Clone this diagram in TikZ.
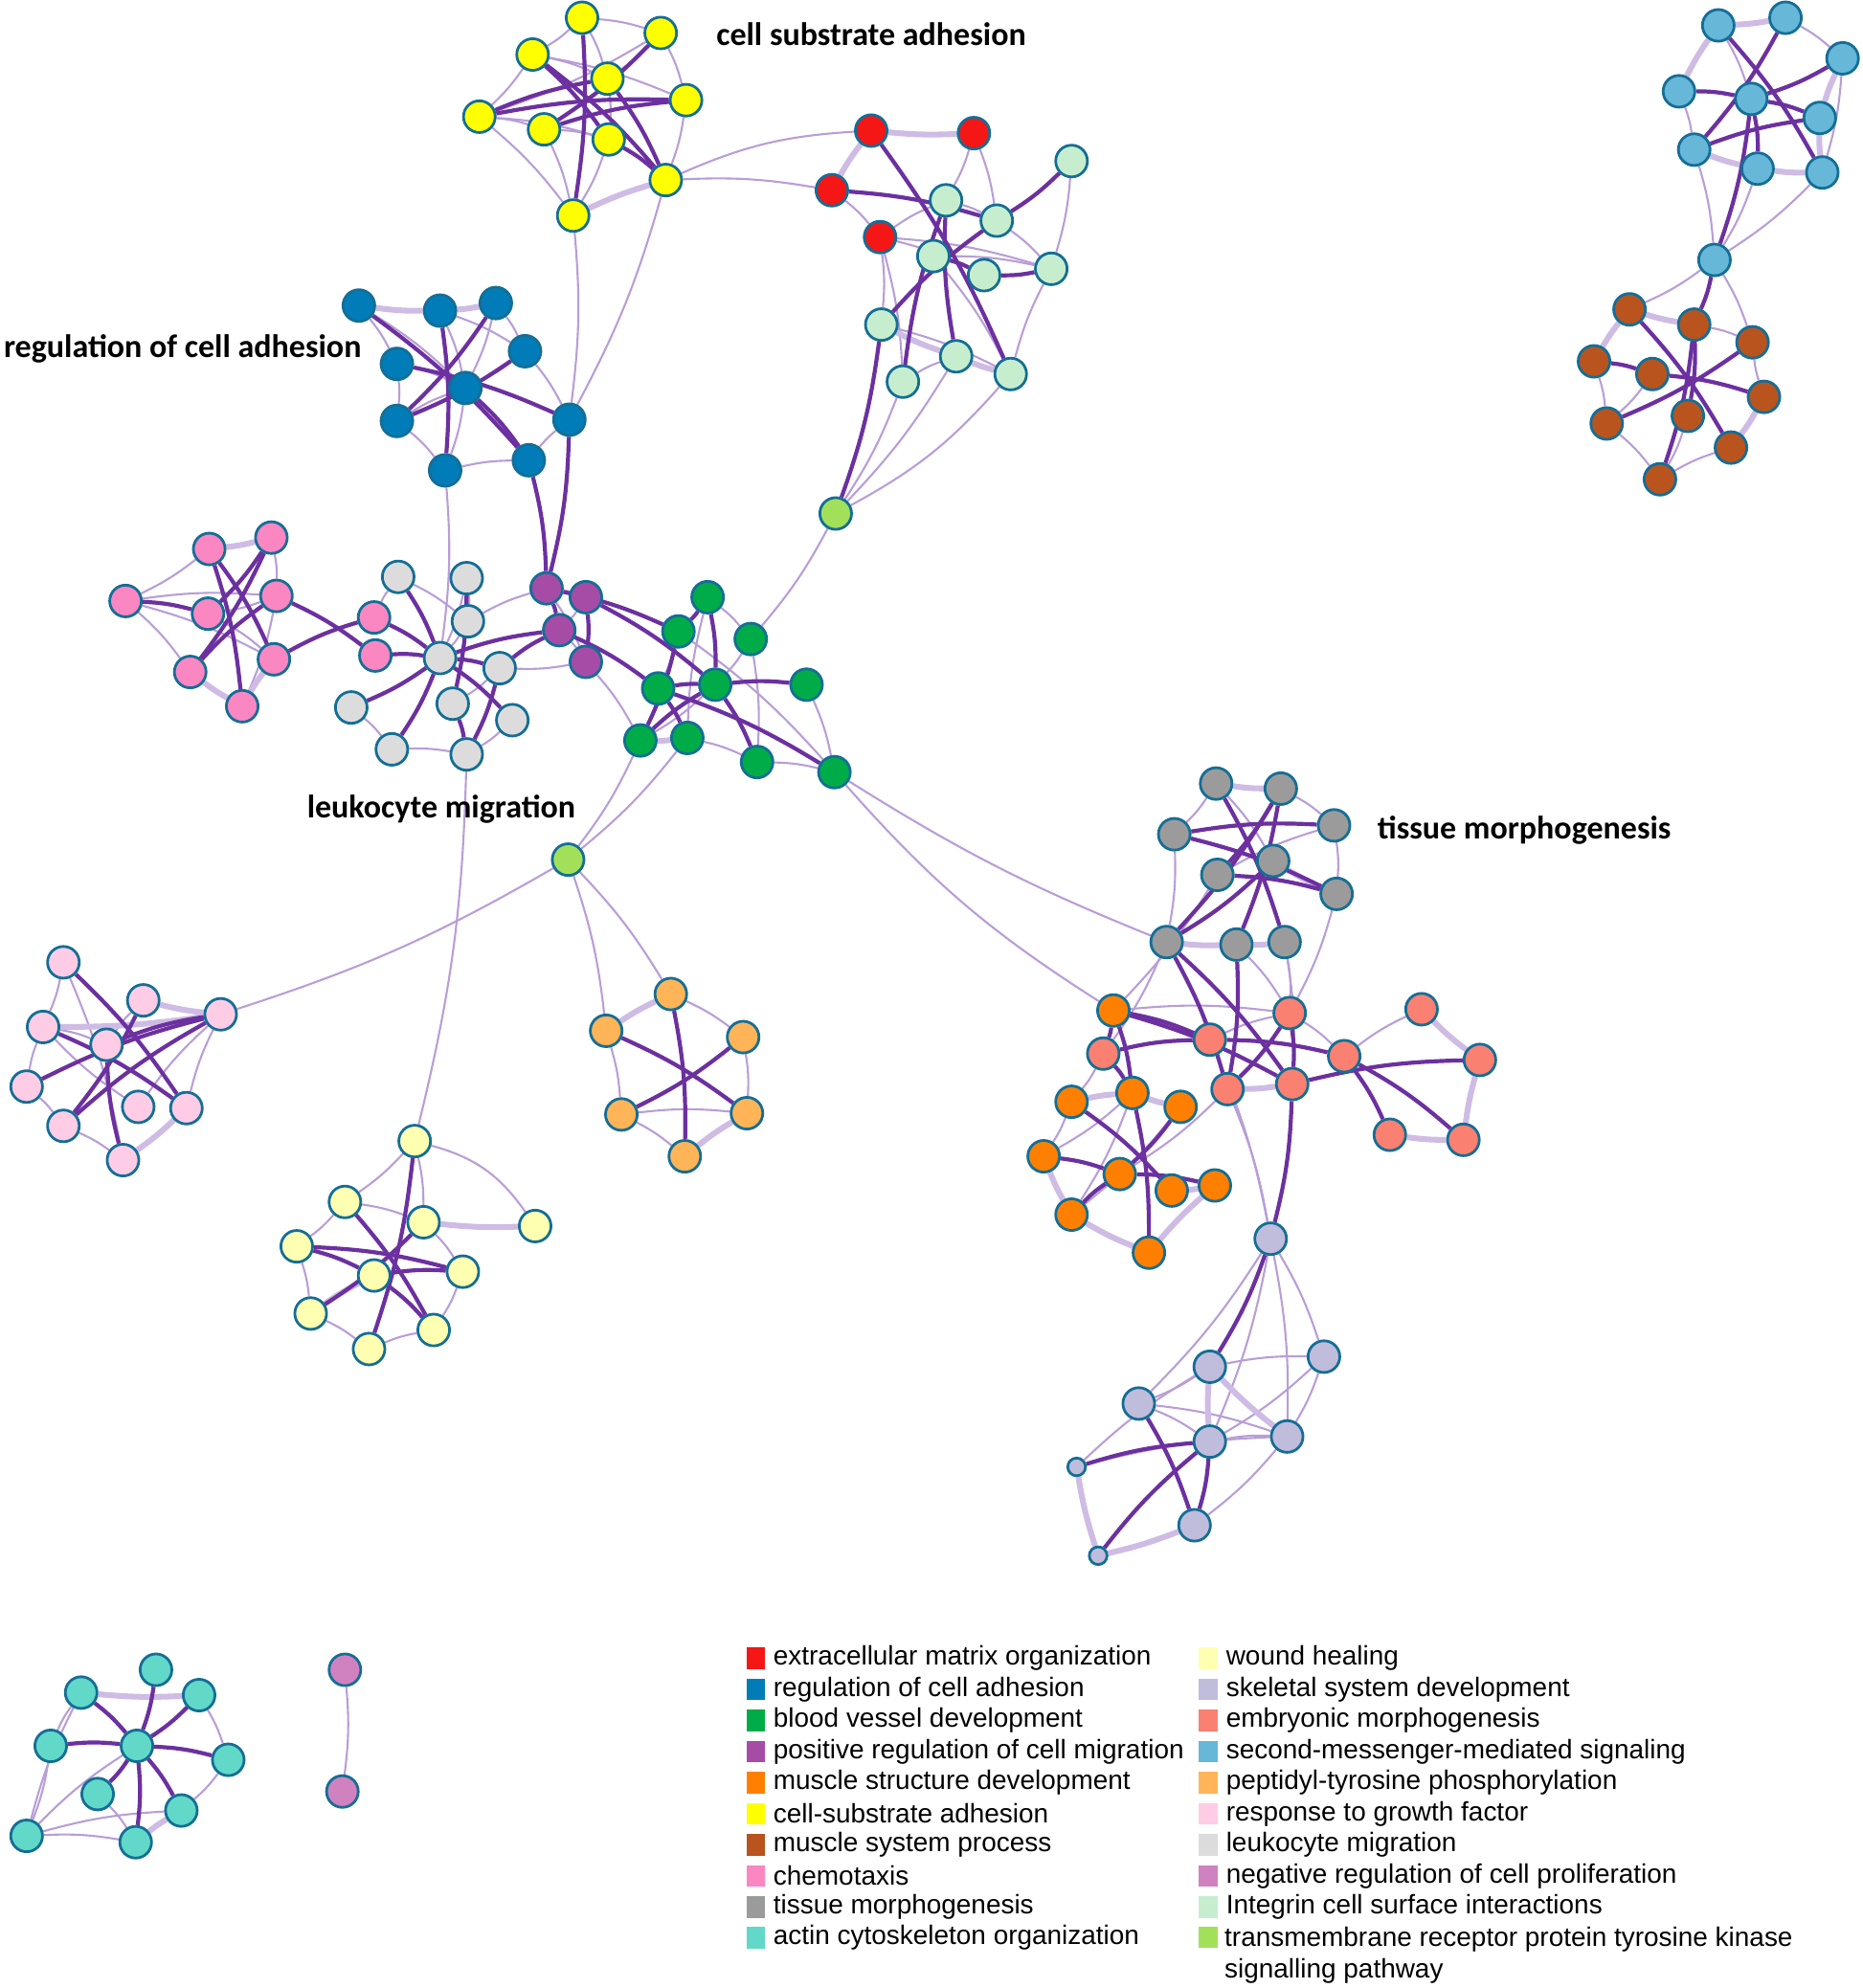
\documentclass[tikz,border=0pt]{standalone}
\usepackage{fontspec}
\setmainfont{Liberation Sans}
\newfontfamily\lblfont{Carlito}
\usetikzlibrary{backgrounds,positioning}

\definecolor{rim}{RGB}{20,110,150}
\definecolor{lightlink}{RGB}{184,158,215}
\definecolor{palelink}{RGB}{206,188,229}
\definecolor{darklink}{RGB}{108,48,160}
\definecolor{ecm}{RGB}{245,22,22}
\definecolor{rca}{RGB}{0,125,184}
\definecolor{bvd}{RGB}{0,172,72}
\definecolor{prm}{RGB}{166,76,166}
\definecolor{msd}{RGB}{255,128,0}
\definecolor{csa}{RGB}{255,255,0}
\definecolor{msp}{RGB}{185,84,31}
\definecolor{chm}{RGB}{250,134,194}
\definecolor{tmo}{RGB}{155,155,155}
\definecolor{act}{RGB}{98,216,200}
\definecolor{wnd}{RGB}{255,255,178}
\definecolor{ske}{RGB}{192,188,220}
\definecolor{emb}{RGB}{250,128,114}
\definecolor{sms}{RGB}{102,183,216}
\definecolor{pty}{RGB}{255,180,87}
\definecolor{rgf}{RGB}{255,204,230}
\definecolor{leu}{RGB}{220,220,220}
\definecolor{nrp}{RGB}{208,129,192}
\definecolor{itg}{RGB}{198,238,206}
\definecolor{rtk}{RGB}{162,224,90}

\tikzset{
  gn/.style={circle, draw=rim, line width=0.6pt, minimum size=0.25cm, inner sep=0pt, fill=#1},
  sn/.style={gn=#1, minimum size=0.14cm},
  lk/.style={draw=lightlink, line width=0.45pt},
  mk/.style={draw=palelink, line width=1.3pt},
  hk/.style={draw=darklink, line width=0.9pt},
  grp/.style={font=\lblfont\bfseries\fontsize{7.3}{8}\selectfont, inner sep=0pt},
  legsq/.style={minimum width=0.15cm, minimum height=0.17cm, inner sep=0pt, fill=#1},
  legtxt/.style={font=\fontsize{6}{7.1}\selectfont, inner sep=0pt, anchor=west}
}

\begin{document}
\begin{tikzpicture}[x=0.01cm, y=-0.01cm]
\useasboundingbox (0,0) rectangle (1469,1568);

\foreach \n/\x/\y in {y1/459/14, y2/521/26, y3/420/43, y4/479/62, y5/541/79, y6/378/92, y7/429/102, y8/480/110, y9/525/142, y10/452/170}
  \node[gn=csa] (\n) at (\x,\y) {};
\foreach \n/\x/\y in {r1/687/103, r2/768/105, r3/656/150, r4/694/187}
  \node[gn=ecm] (\n) at (\x,\y) {};
\foreach \n/\x/\y in {i1/845/127, i2/746/158, i3/786/174, i4/736/202, i5/776/217, i6/829/212, i7/695/256, i8/754/281, i9/712/301, i10/797/295}
  \node[gn=itg] (\n) at (\x,\y) {};
\foreach \n/\x/\y in {b1/283/241, b2/347/245, b3/391/239, b4/414/277, b5/313/287, b6/367/306, b7/313/332, b8/449/331, b9/351/371, b10/417/363}
  \node[gn=rca] (\n) at (\x,\y) {};
\node[gn=rtk] (g1) at (659,405) {};
\node[gn=rtk] (g2) at (448,678) {};
\foreach \n/\x/\y in {p1/165/433, p2/214/424, p3/99/474, p4/218/470, p5/164/484, p6/216/520, p7/150/530, p8/191/557, p9/295/487, p10/296/517}
  \node[gn=chm] (\n) at (\x,\y) {};
\foreach \n/\x/\y in {l1/314/455, l2/368/456, l3/369/490, l4/347/519, l5/394/527, l6/277/558, l7/357/555, l8/404/568, l9/309/591, l10/368/595}
  \node[gn=leu] (\n) at (\x,\y) {};
\foreach \n/\x/\y in {m1/431/464, m2/462/471, m3/441/497, m4/462/522}
  \node[gn=prm] (\n) at (\x,\y) {};
\foreach \n/\x/\y in {v1/558/471, v2/535/498, v3/592/504, v4/519/543, v5/564/540, v6/636/540, v7/505/584, v8/542/582, v9/597/601, v10/658/609}
  \node[gn=bvd] (\n) at (\x,\y) {};
\foreach \n/\x/\y in {t1/959/618, t2/1010/622, t3/926/658, t4/1052/651, t5/1004/679, t6/960/690, t7/1054/705, t8/920/743, t9/975/745, t10/1013/743}
  \node[gn=tmo] (\n) at (\x,\y) {};
\foreach \n/\x/\y in {o1/878/797, o2/893/862, o3/845/869, o4/931/873, o5/823/912, o6/883/926, o7/924/939, o8/958/935, o9/845/958, o10/906/988}
  \node[gn=msd] (\n) at (\x,\y) {};
\foreach \n/\x/\y in {e1/1017/799, e2/1121/796, e3/870/831, e4/954/820, e5/1060/833, e6/1167/836, e7/968/859, e8/1019/855, e9/1096/895, e10/1154/899}
  \node[gn=emb] (\n) at (\x,\y) {};
\foreach \n/\x/\y in {s1/1002/977, s2/1044/1070, s3/954/1078, s4/898/1107, s5/954/1137, s6/1015/1133, s8/942/1203}
  \node[gn=ske] (\n) at (\x,\y) {};
\node[sn=ske] (s7) at (849,1157) {};
\node[sn=ske] (s9) at (866,1227) {};
\foreach \n/\x/\y in {q1/1355/20, q2/1408/14, q3/1453/46, q4/1324/72, q5/1381/78, q6/1435/93, q7/1336/118, q8/1386/133, q9/1437/136, q10/1352/205}
  \node[gn=sms] (\n) at (\x,\y) {};
\foreach \n/\x/\y in {n1/1285/244, n2/1336/256, n3/1382/270, n4/1257/285, n5/1303/295, n6/1391/313, n7/1331/328, n8/1267/334, n9/1365/353, n10/1309/378}
  \node[gn=msp] (\n) at (\x,\y) {};
\foreach \n/\x/\y in {w1/50/759, w2/113/789, w3/174/800, w4/34/810, w5/84/824, w6/21/857, w7/109/873, w8/147/874, w9/50/888, w10/97/915}
  \node[gn=rgf] (\n) at (\x,\y) {};
\foreach \n/\x/\y in {a1/529/784, a2/478/813, a3/586/818, a4/490/879, a5/589/878, a6/540/912}
  \node[gn=pty] (\n) at (\x,\y) {};
\foreach \n/\x/\y in {h1/327/900, h2/272/948, h3/334/964, h4/422/967, h5/234/983, h6/295/1006, h7/365/1003, h8/245/1036, h9/342/1049, h10/291/1064}
  \node[gn=wnd] (\n) at (\x,\y) {};
\foreach \n/\x/\y in {c1/123/1317, c2/64/1335, c3/157/1337, c4/40/1377, c5/108/1377, c6/180/1388, c7/77/1415, c8/143/1428, c9/21/1448, c10/107/1453}
  \node[gn=act] (\n) at (\x,\y) {};
\node[gn=nrp] (k1) at (272,1317) {};
\node[gn=nrp] (k2) at (270,1413) {};

\begin{scope}[on background layer]
\foreach \a/\b in {y1/y2, y1/y3, y3/y6, y6/y7, y7/y10, y2/y5, y5/y9, y1/y4, y4/y8, y7/y8, y2/y4, y3/y4, y8/y10, y6/y8, y3/y5, y2/y6, y6/y10,
  r3/r4, r2/i3, r2/i2, r4/i2, r4/i5, r4/i6, r4/i7, r4/i9, i1/i6, i4/i6, i2/i3, i3/i6, i9/i8, i4/i10, i7/i10, i10/i6,
  b3/b4, b1/b5, b5/b7, b7/b9, b9/b10, b4/b8, b5/b6, b2/b6, b3/b6, b6/b9, b1/b6, b4/b6, b2/b4, b7/b6, b10/b8,
  y10/b8, y9/b8, b9/l4, i9/g1, i8/g1, g1/v3, v7/g2, v8/g2, g2/w3, g2/a1, g2/a2, l10/h1, y9/r3,
  p1/p3, p3/p4, p3/p7, p4/p5, p5/p6, p2/p4, p3/p6, p9/l1, p4/p8,
  l2/l3, l3/l4, l6/l9, l9/l10, l8/l10, l1/l3, l2/l4, l3/m1, l5/l7, m4/l5, m4/v7,
  m1/m2, m3/m4, m1/m4, m2/m3, v1/v3, v2/v4, v3/v5, v3/v9, v8/v9, v9/v10, v6/v10, v5/v7, v2/v10, v8/v1,
  t1/t3, t2/t4, t4/t7, t3/t8, t1/t5, t6/t4, t8/e3, t8/e4, t10/e8, t10/e1, t9/e1, t7/e1, t6/o1,
  o1/e1, e4/e1, e1/e5, e5/e2, e3/o3, o2/o5, o3/o5, o4/o9, o2/o9, e7/s1, e4/s1, e7/o6,
  s1/s2, s1/s6, s1/s4, s1/s5, s3/s2, s3/s4, s4/s6, s4/s5, s5/s6, s2/s6, s2/s5, s7/s3, s6/s8, s7/s6,
  q2/q3, q3/q9, q4/q7, q1/q5, q7/q10, q8/q10, q9/q10, q10/n1, q10/n3,
  n2/n3, n4/n8, n8/n10, n10/n9, n6/n3, n5/n8, n7/n10,
  w1/w4, w1/w10, w4/w5, w6/w4, w6/w9, w9/w10, w7/w3, w8/w3, w5/w2, w7/w4,
  a1/a3, a2/a4, a3/a5, a4/a6, a4/a5,
  h1/h2, h1/h3, h5/h8, h8/h10, h10/h9, h7/h9, h2/h5, h3/h7, h2/h3,
  c4/c2, c4/c9, c9/c8, c9/c10, c9/c2, c6/c8, c3/c6, c7/c10, c9/c5, k1/k2}
  \draw[lk] (\a) to[bend left=6] (\b);
\foreach \a/\b in {y9/y10, r1/r2, r1/r3, i7/i8, i8/i10, b1/b2, b2/b3, p1/p2, p7/p8, p6/p8, v7/v8,
  t1/t2, t5/t7, t8/t9, t9/t10, e2/e6, e6/e10, e9/e10, e7/e8, o2/o3, o7/o8, o5/o9, o9/o10, o2/o4, o8/o10,
  s3/s5, s3/s6, s7/s9, s9/s8, q1/q2, q1/q4, q7/q8, q8/q9, q6/q9, q3/q6, n1/n2, n1/n4, n9/n6,
  w4/w3, w10/w8, w2/w3, a1/a2, a5/a6, h3/h4, h6/h8, c2/c3, c8/c10}
  \draw[mk] (\a) to[bend right=4] (\b);
\foreach \a/\b in {y1/y10, y3/y8, y2/y7, y6/y4, y7/y5, y4/y9, y6/y5, y3/y9, y8/y9,
  r3/i3, r1/i10, i1/i3, i7/i3, i9/i2, i8/i2, i6/i5, i4/i5,
  b3/b7, b2/b9, b5/b8, b6/b10, b4/b7, b1/b10, b8/m1, b10/m1, i7/g1,
  p3/p5, p1/p8, p2/p7, p1/p6, p2/p5, p7/p4, p6/p9, p4/p10, p9/l4, p10/l4,
  l1/l4, l2/l7, l4/l6, l4/l9, l4/l8, l5/l10, l7/l10, l4/l5, l5/m3, l4/m3,
  m1/m3, m2/m4, m3/v4, m2/v5, m1/v2,
  v1/v2, v1/v5, v2/v7, v4/v5, v5/v6, v4/v10, v5/v9, v4/v8, v7/v5,
  t3/t4, t1/t10, t2/t6, t2/t8, t3/t7, t6/t7, t5/t8, t2/t9,
  t8/e7, t8/e8, t9/e7, o1/e3, o1/e8, o1/e4, o1/o2, e3/e4, e4/e5, e1/e8, e5/e9, e5/e10, e8/e6, e1/e7, e3/o2, e8/s1,
  o3/o7, o2/o10, o4/o6, o5/o6, o6/o8, o9/o6,
  s1/s3, s4/s8, s5/s8, s7/s5, s9/s5,
  q1/q9, q2/q7, q3/q5, q4/q5, q5/q6, q5/q8, q7/q6, q5/q10, q10/n2,
  n1/n9, n2/n10, n3/n8, n4/n5, n5/n6, n2/n7,
  w1/w8, w2/w9, w4/w8, w5/w3, w6/w3, w9/w3, w10/w5,
  a1/a6, a2/a5, a3/a4,
  h1/h10, h2/h9, h5/h6, h5/h7, h6/h7, h3/h8, h6/h9,
  c2/c5, c1/c5, c3/c5, c4/c5, c5/c6, c5/c7, c5/c10, c5/c8}
  \draw[hk] (\a) to[bend left=6] (\b);
\draw[lk] (y9) to[bend left=10] (r1);
\draw[lk] (g1) to[bend right=10] (i10);
\draw[lk] (v10) to[bend right=5] (t8);
\draw[lk] (v10) to[bend right=8] (o1);
\draw[lk] (h1) to[bend left=20] (h4);
\end{scope}

\node[grp] (lcsa) at (687,27) {cell substrate adhesion};
\node[grp] (lrca) at (144,275) {regulation of cell adhesion};
\node[grp] (lleu) at (348,638) {leukocyte migration};
\node[grp] (ltmo) at (1202,655) {tissue morphogenesis};

\foreach \c/\t [count=\i from 0] in {ecm/extracellular matrix organization, rca/regulation of cell adhesion, bvd/blood vessel development, prm/positive regulation of cell migration, msd/muscle structure development, csa/cell-substrate adhesion, msp/muscle system process, chm/chemotaxis, tmo/tissue morphogenesis, act/actin cytoskeleton organization}
  \node[legsq=\c] (ka\i) at (596,{1308+24.5*\i}) {} node[legtxt, right=0.05cm of ka\i] {\t};
\foreach \c/\t [count=\i from 0] in {wnd/wound healing, ske/skeletal system development, emb/embryonic morphogenesis, sms/second-messenger-mediated signaling, pty/peptidyl-tyrosine phosphorylation, rgf/response to growth factor, leu/leukocyte migration, nrp/negative regulation of cell proliferation, itg/Integrin cell surface interactions}
  \node[legsq=\c] (kb\i) at (953,{1308+24.5*\i}) {} node[legtxt, right=0.05cm of kb\i] {\t};
\node[legsq=rtk] (kb9) at (953,1528) {};
\node[legtxt, anchor=north west, align=left] (kbt) at (965,1519) {transmembrane receptor protein tyrosine kinase\\signalling pathway};
\end{tikzpicture}
\end{document}
